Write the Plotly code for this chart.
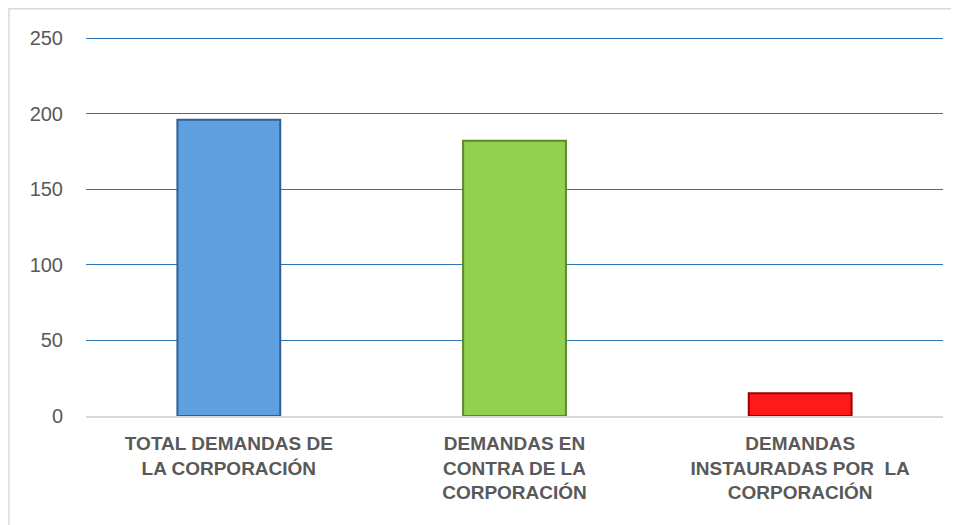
import plotly.graph_objects as go

categories = ["TOTAL DEMANDAS DE<br>LA CORPORACIÓN",
              "DEMANDAS EN<br>CONTRA DE LA<br>CORPORACIÓN",
              "DEMANDAS<br>INSTAURADAS POR  LA<br>CORPORACIÓN"]
values = [196, 182, 15]
bar_colors = ["#5FA0E0", "#92D050", "#FF1A1A"]
edge_colors = ["#2F5F94", "#5A8A2A", "#A00000"]
y_ticks = [0, 50, 100, 150, 200, 250]

# page body has an 8px margin; figure sized to compensate
W, H = 951, 517
L, R, T, B = 78, 16, 22, 109
pw, ph = W - L - R, H - T - B
y_max = ph / (378 / 250)

fig = go.Figure()
fig.add_trace(go.Bar(
    x=categories, y=values,
    marker=dict(color=bar_colors, line=dict(color=edge_colors, width=2)),
    width=0.36,
))

fig.update_layout(
    width=W, height=H,
    margin=dict(l=L, r=R, t=T, b=B),
    paper_bgcolor="white", plot_bgcolor="white",
    showlegend=False,
    font=dict(family="Liberation Sans, Arial, sans-serif", color="#595959"),
    xaxis=dict(showgrid=False, showline=True, linecolor="#D9D9D9", linewidth=2,
               ticks="",
               tickfont=dict(size=19, color="#595959", family="Liberation Sans, Arial, sans-serif",
                             weight="bold"),
               ticklabelstandoff=9),
    yaxis=dict(range=[0, y_max], tickvals=y_ticks, showgrid=True,
               gridcolor="#2E75B6", gridwidth=1.3, zeroline=False,
               showline=False, ticks="",
               tickfont=dict(size=20, color="#595959", family="Liberation Sans, Arial, sans-serif"),
               ticklabelstandoff=22),
    shapes=[dict(type="rect", xref="paper", yref="paper",
                 x0=(1 - L) / pw, x1=(W + 40 - L) / pw,
                 y0=1 - (H + 40 - T) / ph, y1=1 + (T - 0.75) / ph,
                 line=dict(color="#D9D9D9", width=1.5), layer="below")],
)

fig.write_html("out.html")
